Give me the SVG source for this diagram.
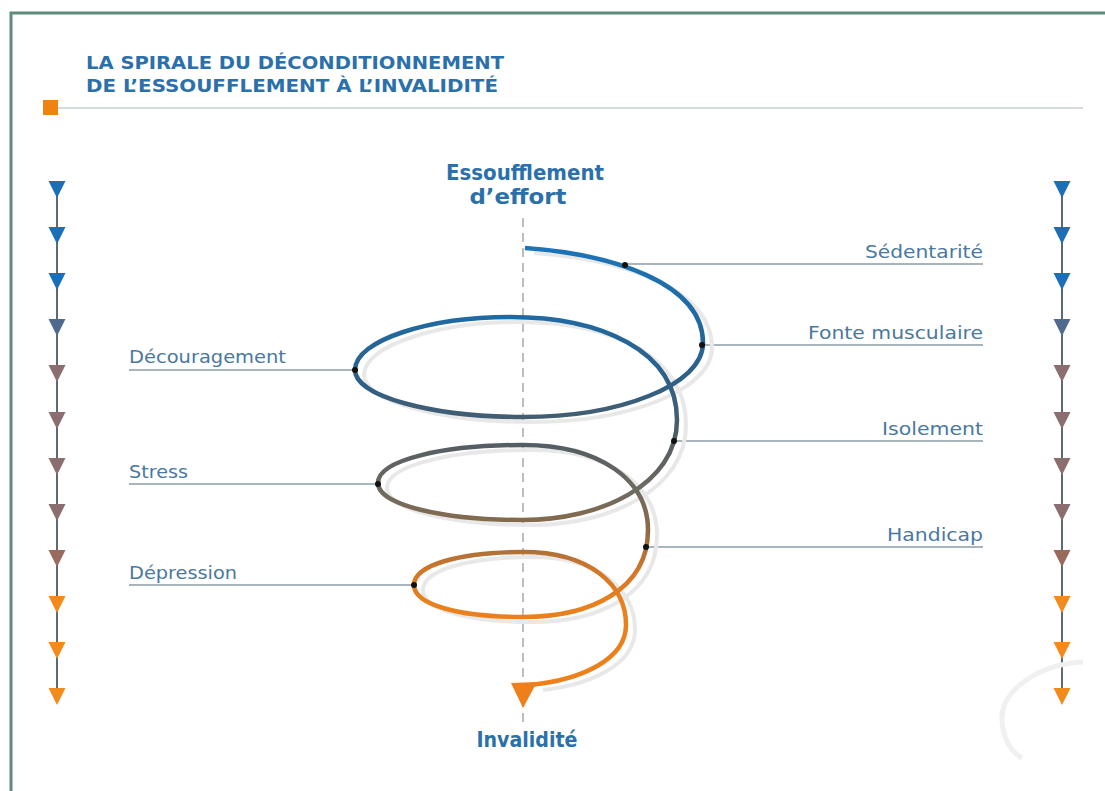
<svg xmlns="http://www.w3.org/2000/svg" width="1105" height="791" viewBox="0 0 1105 791">
<style>
.title{font-family:"DejaVu Sans","Liberation Sans",sans-serif;font-weight:bold;font-size:17px;fill:#2b70aa;font-stretch:condensed}
.big{font-family:"DejaVu Sans","Liberation Sans",sans-serif;font-weight:bold;font-size:21px;fill:#2b70aa;text-anchor:middle;font-stretch:condensed}
.lab{font-family:"DejaVu Sans","Liberation Sans",sans-serif;font-size:17px;fill:#4a78a0}
.lead{stroke:#8d9ca6;stroke-width:1.3;fill:none}
.dot{fill:#111}
.stem{stroke:#5e6a72;stroke-width:2}
.b{fill:#1a6fb8}.s{fill:#4f6a8e}.m{fill:#8a6e70}.r{fill:#9a6a5c}.o{fill:#f28a1c}
</style>
<defs>
<linearGradient id="sg" gradientUnits="userSpaceOnUse" x1="0" y1="248" x2="0" y2="690">
<stop offset="0" stop-color="#1b74b8"/>
<stop offset="0.15" stop-color="#1f6aa3"/>
<stop offset="0.3" stop-color="#2d6088"/>
<stop offset="0.43" stop-color="#505c64"/>
<stop offset="0.55" stop-color="#6e6a60"/>
<stop offset="0.64" stop-color="#8c6a48"/>
<stop offset="0.73" stop-color="#d27628"/>
<stop offset="0.8" stop-color="#e9801e"/>
<stop offset="1" stop-color="#ef7f1a"/>
</linearGradient>
<g id="tri"><polygon points="-8.5,0 8.5,0 0,17"/></g>
</defs>
<rect width="1105" height="791" fill="#ffffff"/>
<path d="M11,791 V13 H1105" fill="none" stroke="#5f8a7e" stroke-width="3"/>
<g id="header">
<text class="title" x="86" y="69" textLength="418" lengthAdjust="spacingAndGlyphs">LA SPIRALE DU DÉCONDITIONNEMENT</text>
<text class="title" x="86" y="92" textLength="412" lengthAdjust="spacingAndGlyphs">DE L’ESSOUFFLEMENT À L’INVALIDITÉ</text>
<rect x="43" y="100" width="15" height="15" fill="#f0820f"/>
<line x1="58" y1="108" x2="1083" y2="108" stroke="#c7cfd2" stroke-width="1.5"/>
</g>
<g id="left-scale">
<line class="stem" x1="57" y1="181" x2="57" y2="700"/>
<use href="#tri" class="b" x="57" y="181"/>
<use href="#tri" class="b" x="57" y="227"/>
<use href="#tri" class="b" x="57" y="273"/>
<use href="#tri" class="s" x="57" y="319"/>
<use href="#tri" class="m" x="57" y="365"/>
<use href="#tri" class="m" x="57" y="412"/>
<use href="#tri" class="m" x="57" y="458"/>
<use href="#tri" class="m" x="57" y="504"/>
<use href="#tri" class="r" x="57" y="550"/>
<use href="#tri" class="o" x="57" y="596"/>
<use href="#tri" class="o" x="57" y="642"/>
<use href="#tri" class="o" x="57" y="688"/>
</g>
<g id="right-scale">
<line class="stem" x1="1062" y1="181" x2="1062" y2="700"/>
<use href="#tri" class="b" x="1062" y="181"/>
<use href="#tri" class="b" x="1062" y="227"/>
<use href="#tri" class="b" x="1062" y="273"/>
<use href="#tri" class="s" x="1062" y="319"/>
<use href="#tri" class="m" x="1062" y="365"/>
<use href="#tri" class="m" x="1062" y="412"/>
<use href="#tri" class="m" x="1062" y="458"/>
<use href="#tri" class="m" x="1062" y="504"/>
<use href="#tri" class="r" x="1062" y="550"/>
<use href="#tri" class="o" x="1062" y="596"/>
<use href="#tri" class="o" x="1062" y="642"/>
<use href="#tri" class="o" x="1062" y="688"/>
</g>
<path d="M1083,662 C1040,664 1000,690 1002,720 C1003,740 1012,752 1022,758" fill="none" stroke="#f0f0f0" stroke-width="5"/>
<line x1="523" y1="218" x2="523" y2="722" stroke="#9a9a9a" stroke-width="1.3" stroke-dasharray="9,6"/>
<g id="connectors">
<line class="lead" x1="625" y1="264" x2="983" y2="264"/>
<line class="lead" x1="702" y1="345" x2="983" y2="345"/>
<line class="lead" x1="674" y1="441" x2="983" y2="441"/>
<line class="lead" x1="646" y1="547" x2="983" y2="547"/>
<line class="lead" x1="129" y1="370" x2="355" y2="370"/>
<line class="lead" x1="129" y1="484" x2="378" y2="484"/>
<line class="lead" x1="129" y1="585" x2="414" y2="585"/>
</g>
<g id="spiral">
<path transform="translate(9,5)" d="M525,248 C610,254 703,282 703,343 C703,385 620,417 523,417 C431,417 355,396 355,370 C355,340 430,317 510,317 C600,317 677,350 677,420 C677,485 600,520 523,520 C443,520 378,505 378,483 C378,460 443,445 523,445 C600,445 648,480 648,530 C648,590 590,617 523,617 C460,617 414,605 414,585 C414,565 460,552 523,552 C590,552 626,585 626,625 C626,660 580,680 534,685" fill="none" stroke="#e8e8e8" stroke-width="4"/>
<path d="M525,248 C610,254 703,282 703,343 C703,385 620,417 523,417 C431,417 355,396 355,370 C355,340 430,317 510,317 C600,317 677,350 677,420 C677,485 600,520 523,520 C443,520 378,505 378,483 C378,460 443,445 523,445 C600,445 648,480 648,530 C648,590 590,617 523,617 C460,617 414,605 414,585 C414,565 460,552 523,552 C590,552 626,585 626,625 C626,660 580,680 530,685" fill="none" stroke="url(#sg)" stroke-width="4.5"/>
<polygon points="511,683 537,682 523,708" fill="#ef7f1a"/>
</g>
<g id="n-sedentarite"><circle class="dot" cx="625" cy="265" r="3"/><text class="lab" x="983" y="258" text-anchor="end" textLength="118" lengthAdjust="spacingAndGlyphs">Sédentarité</text></g>
<g id="n-fonte"><circle class="dot" cx="702" cy="345" r="3"/><text class="lab" x="983" y="339" text-anchor="end" textLength="175" lengthAdjust="spacingAndGlyphs">Fonte musculaire</text></g>
<g id="n-isolement"><circle class="dot" cx="674" cy="441" r="3"/><text class="lab" x="983" y="435" text-anchor="end" textLength="101" lengthAdjust="spacingAndGlyphs">Isolement</text></g>
<g id="n-handicap"><circle class="dot" cx="646" cy="547" r="3"/><text class="lab" x="983" y="541" text-anchor="end" textLength="96" lengthAdjust="spacingAndGlyphs">Handicap</text></g>
<g id="n-decouragement"><circle class="dot" cx="355" cy="370" r="3"/><text class="lab" x="129" y="363" textLength="157" lengthAdjust="spacingAndGlyphs">Découragement</text></g>
<g id="n-stress"><circle class="dot" cx="378" cy="484" r="3"/><text class="lab" x="129" y="478" textLength="59" lengthAdjust="spacingAndGlyphs">Stress</text></g>
<g id="n-depression"><circle class="dot" cx="414" cy="585" r="3"/><text class="lab" x="129" y="579" textLength="108" lengthAdjust="spacingAndGlyphs">Dépression</text></g>
<g id="n-top"><text class="big" x="525" y="180" textLength="158" lengthAdjust="spacingAndGlyphs">Essoufflement</text><text class="big" x="518" y="204" textLength="97" lengthAdjust="spacingAndGlyphs">d’effort</text></g>
<g id="n-bottom"><text class="big" x="527" y="747" textLength="101" lengthAdjust="spacingAndGlyphs">Invalidité</text></g>
</svg>
